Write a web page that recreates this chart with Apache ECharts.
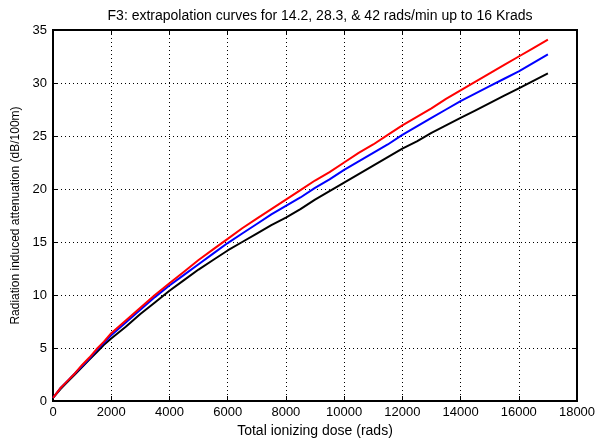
<!DOCTYPE html>
<html><head><meta charset="utf-8">
<script src="https://cdn.jsdelivr.net/npm/echarts@6/dist/echarts.min.js"></script>
<style>html,body{margin:0;padding:0;background:#fff}#c{width:606px;height:443px}</style>
</head><body><div id="c"></div>
<script>
const doseRads = [0,250,500,750,1000,1250,1500,1750,2000,2500,3000,3500,4000,4500,5000,5500,6000,6500,7000,7500,8000,8500,9000,9500,10000,10500,11000,11500,12000,12500,13000,13500,14000,14500,15000,15500,16000,16500,17000];
const red42 = [0.3,1.2,1.9,2.6,3.4,4.1,4.9,5.6,6.4,7.6,8.8,10.0,11.1,12.2,13.3,14.3,15.3,16.3,17.2,18.1,19.0,19.9,20.8,21.6,22.5,23.4,24.2,25.1,26.0,26.8,27.6,28.5,29.3,30.1,30.9,31.7,32.5,33.3,34.1];
const blue28 = [0.3,1.2,1.9,2.6,3.3,4.0,4.8,5.5,6.2,7.4,8.6,9.8,10.9,11.9,12.9,13.9,14.9,15.8,16.7,17.6,18.4,19.2,20.1,20.9,21.8,22.6,23.4,24.2,25.1,25.9,26.7,27.5,28.3,29.0,29.7,30.4,31.1,31.9,32.7];
const black14 = [0.3,1.1,1.8,2.5,3.2,3.9,4.6,5.3,5.9,7.0,8.2,9.3,10.4,11.4,12.4,13.3,14.2,15.0,15.8,16.6,17.3,18.1,19.0,19.8,20.6,21.4,22.2,23.0,23.8,24.5,25.3,26.0,26.7,27.4,28.1,28.8,29.5,30.2,30.9];
const titleText = 'F3: extrapolation curves for 14.2, 28.3, & 42 rads/min up to 16 Krads';
const xName = 'Total ionizing dose (rads)';
const yName = 'Radiation induced attenuation (dB/100m)';

const font = 'Liberation Sans, Arial, sans-serif';
const pair = (ys) => doseRads.map((x, i) => [x, ys[i]]);
const chart = echarts.init(document.getElementById('c'), null, {renderer: 'canvas'});
const gridDots = {show: true, lineStyle: {color: '#000', width: 1, type: [1, 3]}};
chart.setOption({
  animation: false,
  backgroundColor: '#fff',
  title: {text: titleText, left: 315, top: 4, textAlign: 'center',
    textStyle: {fontFamily: font, fontSize: 14, fontWeight: 'normal', color: '#000'}},
  grid: {left: 53, right: 29, top: 30, bottom: 42, show: true, borderColor: '#000', borderWidth: 2},
  xAxis: [{
    type: 'value', min: 0, max: 18000, interval: 2000, position: 'bottom',
    name: xName, nameLocation: 'middle', nameGap: 23,
    nameTextStyle: {fontFamily: font, fontSize: 14, color: '#000'},
    axisLine: {show: true, onZero: false, lineStyle: {color: '#000', width: 2}},
    axisTick: {show: true, inside: true, length: 5, lineStyle: {color: '#000'}},
    axisLabel: {fontFamily: font, fontSize: 13, color: '#000', margin: 5, formatter: (v) => String(v)},
    splitLine: gridDots
  }, {
    type: 'value', min: 0, max: 18000, interval: 2000, position: 'top',
    axisLine: {show: true, onZero: false, lineStyle: {color: '#000', width: 2}},
    axisTick: {show: true, inside: true, length: 5, lineStyle: {color: '#000'}},
    axisLabel: {show: false}, splitLine: {show: false}
  }],
  yAxis: [{
    type: 'value', min: 0, max: 35, interval: 5, position: 'left',
    name: yName, nameLocation: 'middle', nameGap: 29, nameRotate: 90,
    nameTextStyle: {fontFamily: font, fontSize: 12, color: '#000'},
    axisLine: {show: true, onZero: false, lineStyle: {color: '#000', width: 2}},
    axisTick: {show: true, inside: true, length: 5, lineStyle: {color: '#000'}},
    axisLabel: {fontFamily: font, fontSize: 13, color: '#000', margin: 6},
    splitLine: gridDots
  }, {
    type: 'value', min: 0, max: 35, interval: 5, position: 'right',
    axisLine: {show: true, onZero: false, lineStyle: {color: '#000', width: 2}},
    axisTick: {show: true, inside: true, length: 5, lineStyle: {color: '#000'}},
    axisLabel: {show: false}, splitLine: {show: false}
  }],
  series: [
    {name: '14.2 rads/min', type: 'line', data: pair(black14), showSymbol: false, lineStyle: {color: '#000', width: 2}, itemStyle: {color: '#000'}},
    {name: '28.3 rads/min', type: 'line', data: pair(blue28), showSymbol: false, lineStyle: {color: '#0000ff', width: 2}, itemStyle: {color: '#0000ff'}},
    {name: '42 rads/min', type: 'line', data: pair(red42), showSymbol: false, lineStyle: {color: '#ff0000', width: 2}, itemStyle: {color: '#ff0000'}}
  ]
});
</script></body></html>
